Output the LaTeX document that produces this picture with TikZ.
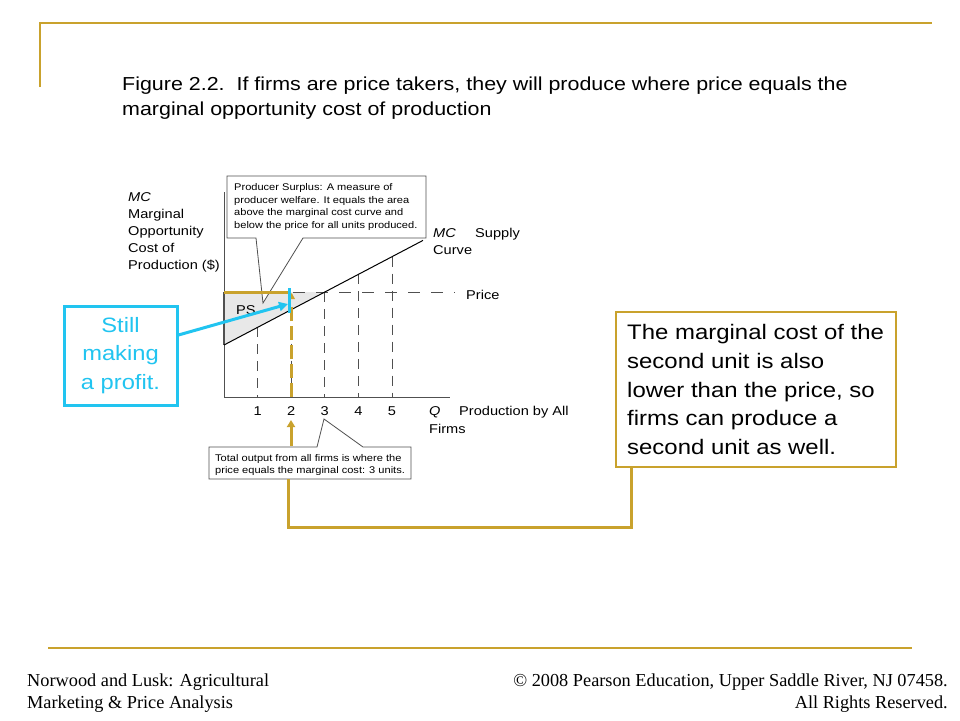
\documentclass[tikz,border=0pt]{standalone}
\usepackage{fontspec}
\setmainfont[FakeStretch=1.14]{Liberation Sans}
\newfontfamily\footfont{Liberation Serif}
\usepackage{tikz}
\usetikzlibrary{arrows.meta}
\definecolor{slidegold}{RGB}{201,162,45}
\definecolor{stillcyan}{RGB}{33,196,240}
\definecolor{axisgray}{RGB}{80,80,80}

\begin{document}
\begin{tikzpicture}[x=1pt, y=-1pt,
    lbl/.style={inner sep=0pt, font=\fontsize{12.8}{17}\selectfont},
    smallnote/.style={inner sep=0pt, anchor=north west, align=left, font=\fontsize{9.7}{12.5}\selectfont},
    guide/.style={draw=axisgray, line width=0.9pt, dash pattern=on 10pt off 7pt},
    goldline/.style={draw=slidegold, line width=3pt},
    cyanline/.style={draw=stillcyan, line width=3pt},
    bigtext/.style={font=\fontsize{21}{28.9}\selectfont},
    foot/.style={inner sep=0pt, font=\footfont\fontsize{18.3}{22}\selectfont}]

    \useasboundingbox[fill=white] (0,0) rectangle (960,720);

    \draw[slidegold, line width=2pt] (40,87) -- (40,23) -- (932,23);
    \draw[slidegold, line width=2.5pt] (48,648) -- (912,648);

    \node[anchor=north west, inner sep=0pt, align=left, font=\fontsize{18.8}{25}\selectfont] (title) at (122,76.3)
        {Figure 2.2.\ \ If firms are price takers, they will produce where price equals the\\marginal opportunity cost of production};

    \coordinate (O) at (224,397);
    \coordinate (ytop) at (224,192);
    \coordinate (xend) at (450,397);
    \coordinate (mclow) at (224,345);
    \coordinate (mchigh) at (423,240.4);
    \coordinate (pstart) at (224,292);
    \coordinate (eq) at (324.8,292);
    \coordinate (pend) at (455,292);

    \fill[gray!18] (pstart) -- (eq) -- (mclow) -- cycle;
    \draw[guide, dash pattern=on 12pt off 11pt] (pstart) -- (pend);
    \foreach \q/\y in {1/327.3, 2/309.7, 3/292, 4/274.3, 5/256.6}
        \draw[guide] (224+33.6*\q, \y) -- (224+33.6*\q, 397);
    \draw[axisgray, line width=1pt] (ytop) -- (O) -- (xend);
    \draw[axisgray, line width=1.6pt] (pstart) -- (mclow);
    \draw[black, line width=1pt] (mclow) -- (mchigh);

    \foreach \q in {1,...,5}
        \node[lbl, anchor=base] (tick\q) at (224+33.6*\q, 415) {\q};
    \node[lbl, anchor=base west] (qlabel) at (429,415) {\textit{Q}};
    \node[lbl, anchor=base west] (qtext) at (459,415) {Production by All};
    \node[lbl, anchor=base west] (firms) at (429,433) {Firms};
    \node[lbl, anchor=base west] (price) at (466,299) {Price};
    \node[lbl, anchor=base west] (mclabel) at (433,237) {\textit{MC}};
    \node[lbl, anchor=base west] (supply) at (475,237) {Supply};
    \node[lbl, anchor=base west] (curve) at (433,254) {Curve};
    \node[lbl, anchor=base west] (ps) at (236,314) {PS};
    \node[lbl, anchor=north west, align=left] (ylabel) at (128,192.8)
        {\textit{MC}\\Marginal\\Opportunity\\Cost of\\Production (\$)};

    \coordinate (pstip) at (263,303);
    \draw[axisgray, line width=0.8pt, fill=white] (256,238) -- (227,238) -- (227,176) -- (426,176) -- (426,238) -- (303,238) -- (pstip) -- cycle;
    \node[smallnote] (psnote) at (234,183.6)
        {Producer Surplus: A measure of\\producer welfare. It equals the area\\above the marginal cost curve and\\below the price for all units produced.};

    \coordinate (totaltip) at (324,419);
    \draw[axisgray, line width=0.8pt, fill=white] (317,447) -- (209,447) -- (209,479) -- (411,479) -- (411,447) -- (363,447) -- (totaltip) -- cycle;
    \node[smallnote] (totalnote) at (215,453.9)
        {Total output from all firms is where the\\price equals the marginal cost: 3 units.};

    \draw[goldline] (pstart) -- (288,292);
    \draw[goldline, dash pattern=on 14pt off 5pt] (291.7,397) -- (291.7,305);
    \draw[draw=none, fill=slidegold] (291.7,293) -- (295,299) -- (288.4,299) -- cycle;
    \draw[cyanline] (289,288) -- (289,313);

    \coordinate (arrowfoot) at (291,446);
    \draw[goldline, -{Triangle[length=7pt, width=8pt]}] (arrowfoot) -- (291,420);

    \node[draw=stillcyan, line width=3pt, minimum width=113pt, minimum height=99pt, inner sep=0pt,
          text=stillcyan, align=center, bigtext, font=\fontsize{20.8}{28.6}\selectfont] (still) at (120.5,355.5) {Still\\making\\a profit.};
    \coordinate (stilltip) at (288,304);
    \draw[cyanline, -{Triangle[length=9pt, width=9pt]}] (still.east |- 0,335) -- (stilltip);

    \node[draw=slidegold, line width=2pt, fill=white, minimum width=280pt, minimum height=155pt] (unitnote) at (756,389.5) {};
    \node[anchor=north west, inner sep=0pt, align=left, bigtext] (unittext) at (627,323.8)
        {The marginal cost of the\\second unit is also\\lower than the price, so\\firms can produce a\\second unit as well.};

    \coordinate (totalbottom) at (288,479);
    \draw[goldline] (totalbottom) -- (288,527.5) -| ([xshift=16.5pt]unitnote.south west);

    \node[foot, anchor=base west] (footleft) at (27,686) {Norwood and Lusk: Agricultural};
    \node[foot, anchor=base west] (footleft2) at (27,708) {Marketing \& Price Analysis};
    \node[foot, anchor=base east] (footright) at (948,686) {© 2008 Pearson Education, Upper Saddle River, NJ 07458.};
    \node[foot, anchor=base east] (footright2) at (948,708) {All Rights Reserved.};

\end{tikzpicture}
\end{document}
